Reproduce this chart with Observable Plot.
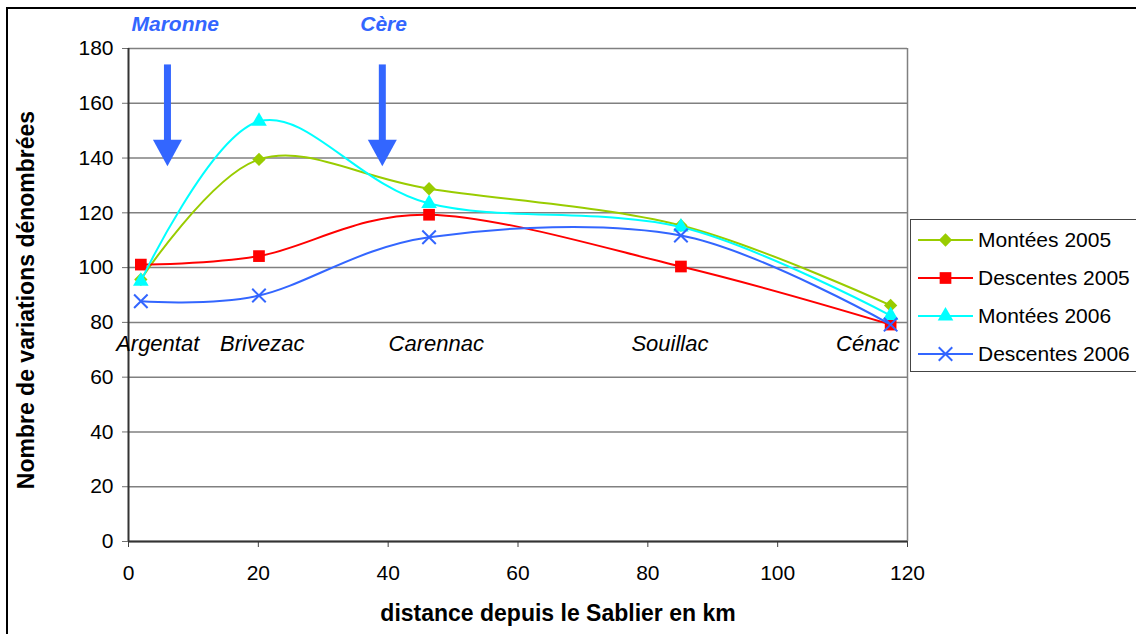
<!DOCTYPE html>
<html>
<head>
<meta charset="utf-8">
<script src="https://cdn.jsdelivr.net/npm/d3@7"></script>
<script src="https://cdn.jsdelivr.net/npm/@observablehq/plot@0.6"></script>
<style>
  html, body { margin: 0; padding: 0; background: #fff; }
  #wrap { position: relative; width: 1136px; height: 634px; overflow: hidden; font-family: "Liberation Sans", Arial, sans-serif; }
  #frame { position: absolute; left: 6px; top: 7px; width: 1200px; height: 700px; border: 2px solid #000; box-sizing: border-box; pointer-events: none; }
  #chart { position: absolute; left: 0; top: 0; }
  #legend { position: absolute; left: 910px; top: 219px; width: 260px; height: 153px; border: 1.5px solid #444; box-sizing: border-box; background: #fff; padding-top: 1px; }
  .row { display: flex; align-items: center; height: 38px; }
  .row svg { flex: none; margin-left: 5px; }
  .row span { font-size: 21px; color: #000; margin-left: 2px; white-space: nowrap; }
</style>
</head>
<body>
<div id="wrap">
  <div id="chart"></div>
  <div id="legend"></div>
  <div id="frame"></div>
</div>
<script>
// Counting stations along the river (km from the Sablier dam)
const stationNames = ["Argentat", "Brivezac", "Carennac", "Souillac", "Cénac"];
const stationKm = [1.9, 20.1, 46.3, 85.1, 117.4];

// Number of level variations counted at each station
const seriesNames = ["Montées 2005", "Descentes 2005", "Montées 2006", "Descentes 2006"];
const montees2005 = [95.7, 139.5, 128.8, 115.4, 86.2];
const descentes2005 = [101.1, 104.2, 119.3, 100.4, 79.2];
const montees2006 = [95.0, 153.4, 123.4, 114.8, 82.5];
const descentes2006 = [87.7, 89.8, 111.1, 111.7, 79.2];

// Tributary confluences
const tributaryNames = ["Maronne", "Cère"];
const tributaryKm = [6.0, 39.1];

// Axis ticks
const xTicks = [0, 20, 40, 60, 80, 100, 120];
const yTicks = [0, 20, 40, 60, 80, 100, 120, 140, 160, 180];

const xTitle = "distance depuis le Sablier en km";
const yTitle = "Nombre de variations dénombrées";

// ---- styling / layout ----
const seriesValues = [montees2005, descentes2005, montees2006, descentes2006];
const seriesColors = ["#99cc00", "#ff0000", "#00ffff", "#3366ff"];
const seriesSymbols = ["diamond2", "square", "triangle", "times"];
const seriesR = [6.0, 6.6, 5.8, 6.2];
const blue = "#3366ff";
const labelRow = 72;            // y value of the station-name row
const labelNudge = [2.6, 0.5, 1.1, -1.7, -3.5];
const tributaryNudge = [1.2, 0.2];
const arrowTop = 174, arrowTip = 137;

const series = seriesNames.map((name, s) =>
  stationKm.map((km, i) => ({series: name, km, value: seriesValues[s][i]}))
);
const stations = stationNames.map((name, i) => ({name, km: stationKm[i]}));
const tributaries = tributaryNames.map((name, i) => ({name, km: tributaryKm[i]}));

// filled arrow head, tip at the origin
const arrowHead = {
  draw(context) {
    context.moveTo(-14.5, -26.5);
    context.lineTo(14.5, -26.5);
    context.lineTo(0, 0);
    context.closePath();
  }
};

const seriesMarks = series.flatMap((data, s) => [
  Plot.line(data, {x: "km", y: "value", stroke: seriesColors[s], strokeWidth: 2, curve: "cardinal", tension: 0}),
  seriesSymbols[s] === "times"
    ? Plot.dot(data, {x: "km", y: "value", symbol: "times", r: seriesR[s], stroke: seriesColors[s], strokeWidth: 2, fill: "none"})
    : Plot.dot(data, {x: "km", y: "value", symbol: seriesSymbols[s], r: seriesR[s], fill: seriesColors[s], stroke: "none"})
]);

const chart = Plot.plot({
  width: 1136,
  height: 634,
  marginLeft: 128,
  marginRight: 229,
  marginTop: 48,
  marginBottom: 93,
  style: {fontFamily: "'Liberation Sans', Arial, sans-serif", fontSize: "21px", color: "#000", background: "transparent"},
  x: {domain: [0, 120]},
  y: {domain: [0, 180]},
  marks: [
    Plot.gridY({ticks: yTicks, stroke: "#808080", strokeOpacity: 1, strokeWidth: 1.5}),
    Plot.axisY({ticks: yTicks, tickSize: 6, tickPadding: 9, fontSize: 21, stroke: "#707070", label: null}),
    Plot.axisX({ticks: xTicks, tickSize: 6, tickPadding: 18, fontSize: 21, stroke: "#404040", label: null}),
    Plot.ruleX([120], {stroke: "#808080", strokeWidth: 1.5}),
    Plot.ruleX([0], {stroke: "#333", strokeWidth: 2}),
    Plot.ruleY([0], {stroke: "#333", strokeWidth: 2}),
    // tributary arrows
    Plot.ruleX(tributaries, {x: "km", y1: arrowTop, y2: arrowTip + 8, stroke: blue, strokeWidth: 7}),
    Plot.dot(tributaries, {x: "km", y: arrowTip, symbol: arrowHead, fill: blue, stroke: "none"}),
    Plot.text(tributaries, {x: (d, i) => d.km + tributaryNudge[i], text: "name", frameAnchor: "top", lineAnchor: "middle", textAnchor: "middle", dy: -24, fill: blue, fontSize: 21, fontWeight: "bold", fontStyle: "italic", ariaLabel: "tributary-labels"}),
    // station names
    Plot.text(stations, {x: (d, i) => d.km + labelNudge[i], y: labelRow, text: "name", fontSize: 22, fontStyle: "italic", fill: "#000"}),
    ...seriesMarks,
    // axis titles
    Plot.text([xTitle], {frameAnchor: "bottom", lineAnchor: "middle", textAnchor: "middle", dx: 40, dy: 72, fontSize: 23, fontWeight: "bold", fill: "#000", ariaLabel: "x-title"}),
    Plot.text([yTitle], {frameAnchor: "left", lineAnchor: "middle", textAnchor: "middle", rotate: -90, dx: -102, dy: 5, fontSize: 23, fontWeight: "bold", fill: "#000", ariaLabel: "y-title"})
  ]
});

d3.select(chart).selectAll('g[aria-label="x-title"] text').style("letter-spacing", "0.1px");
d3.select(chart).selectAll('g[aria-label="y-title"] text').style("letter-spacing", "0.4px");
d3.select(chart).selectAll('g[aria-label="tributary-labels"] text').style("letter-spacing", "1.8px");
document.getElementById("chart").appendChild(chart);

// legend
const legend = d3.select("#legend");
seriesNames.forEach((name, s) => {
  const row = legend.append("div").attr("class", "row");
  const svg = row.append("svg").attr("width", 60).attr("height", 30);
  svg.append("line").attr("x1", 2).attr("x2", 57).attr("y1", 15).attr("y2", 15)
    .attr("stroke", seriesColors[s]).attr("stroke-width", 2);
  const symbolType = {diamond2: d3.symbolDiamond2, square: d3.symbolSquare, triangle: d3.symbolTriangle, times: d3.symbolTimes}[seriesSymbols[s]];
  const path = svg.append("path")
    .attr("transform", "translate(29.5,15)")
    .attr("d", d3.symbol(symbolType, seriesR[s] * seriesR[s] * Math.PI)());
  if (seriesSymbols[s] === "times") path.attr("fill", "none").attr("stroke", seriesColors[s]).attr("stroke-width", 2);
  else path.attr("fill", seriesColors[s]);
  row.append("span").text(name);
});
</script>
</body>
</html>
